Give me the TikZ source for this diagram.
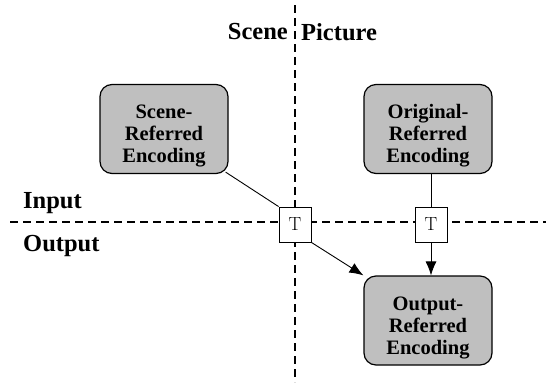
\documentclass[tikz,border=0pt]{standalone}
\usepackage{fontspec}
\setmainfont{Liberation Serif}
\newfontfamily\lmfont{Latin Modern Roman}
\usetikzlibrary{arrows.meta}

\tikzset{
  encoding/.style={draw, line width=1.2pt, fill=gray!50, rounded corners=12pt,
    minimum width=128pt, minimum height=89pt},
  enctext/.style={align=center, yshift=-7pt,
    font=\fontsize{20.5}{22}\selectfont\bfseries},
  tbox/.style={draw, fill=white, line width=0.9pt, minimum width=32pt, minimum height=35pt,
    inner sep=0pt, font=\fontsize{19}{19}\lmfont},
  region/.style={font=\fontsize{24.5}{24}\selectfont\bfseries, inner sep=0pt},
  divider/.style={dashed, line width=1.3pt, dash pattern=on 8pt off 5pt},
  link/.style={line width=0.9pt},
  flow/.style={link, -{Latex[length=14pt, width=11pt]}}
}

\begin{document}
\begin{tikzpicture}[x=1pt,y=-1pt]
  \useasboundingbox (0,0) rectangle (546,386);
  % the two dividing lines
  \coordinate (top) at (295,5);
  \coordinate (bottom) at (295,382);
  \coordinate (left) at (10,222);
  \coordinate (right) at (546,222);
  \draw[divider] (top) -- (bottom);
  \draw[divider] (left) -- (right);

  \node[region, anchor=east] (scene) at (288,32) {Scene};
  \node[region, anchor=west] (picture) at (301,32) {Picture};
  \node[region, anchor=west] (input) at (23,203) {Input};
  \node[region, anchor=west] (output) at (23,246) {Output};

  \node[encoding, label={[enctext]center:Scene-\\Referred\\Encoding}] (SR) at (164,129) {};
  \node[encoding, label={[enctext]center:Original-\\Referred\\Encoding}] (OR) at (428,129) {};
  \node[encoding, label={[enctext]center:Output-\\Referred\\Encoding}] (OutR) at (428,320.5) {};

  \node[tbox] (T1) at (295,224.5) {T};
  \node[tbox] (T2) at (431,224.5) {T};

  \draw[link] (SR.south east) ++(-3,-2) coordinate (SRc) -- (T1.north west);
  \draw[link] (OR.south -| T2) -- (T2);
  \draw[flow] (T1.south east) to (OutR.north west);
  \draw[flow] (T2) to (OutR.north -| T2);
\end{tikzpicture}
\end{document}
